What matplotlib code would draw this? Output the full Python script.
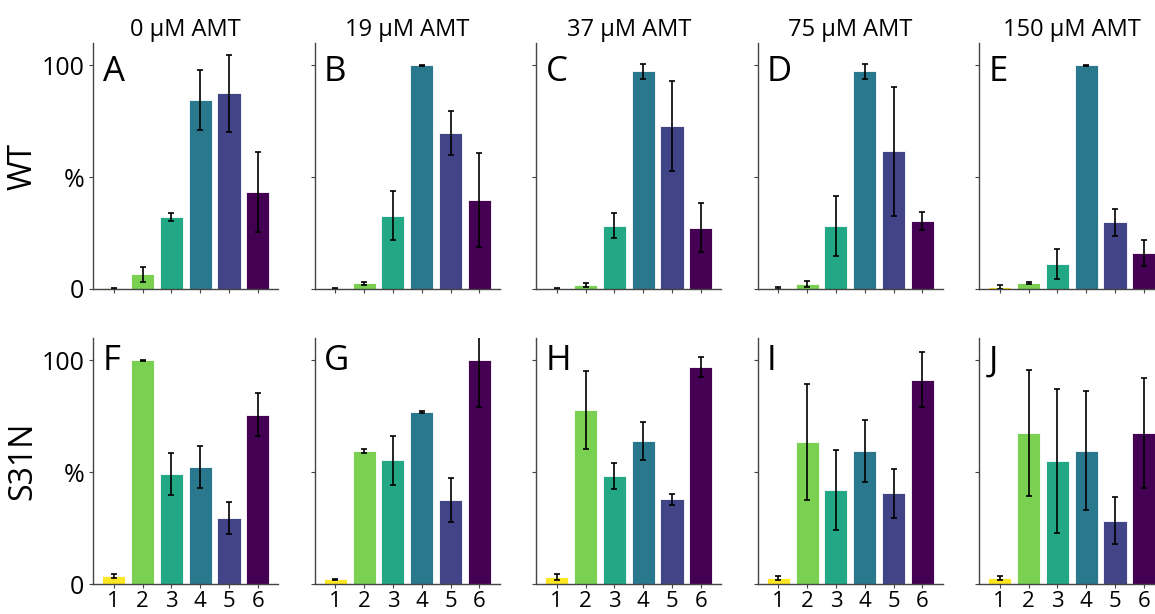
import numpy as np
import matplotlib
matplotlib.use("Agg")
import matplotlib.pyplot as plt

plt.rcParams['font.family'] = ['Open Sans', 'DejaVu Sans']

# concentrations (columns) and strains (rows)
conc_titles = ['0 μM AMT', '19 μM AMT', '37 μM AMT', '75 μM AMT', '150 μM AMT']
strains = ['WT', 'S31N']
letters = [['A', 'B', 'C', 'D', 'E'], ['F', 'G', 'H', 'I', 'J']]
categories = [1, 2, 3, 4, 5, 6]

# WT, mean % and error, one list per concentration
wt_vals = [
    [0.3, 6.5, 32.2, 84.4, 87.5, 43.3],
    [0.3, 2.5, 32.8, 100.0, 69.6, 39.9],
    [0.2, 1.8, 28.3, 97.3, 72.9, 27.4],
    [0.4, 2.2, 28.3, 97.3, 61.5, 30.4],
    [1.0, 2.7, 11.0, 100.0, 29.8, 16.1],
]
wt_err = [
    [0.2, 3.5, 2.0, 13.4, 17.3, 18.0],
    [0.2, 0.8, 11.0, 0.1, 9.8, 21.0],
    [0.2, 1.0, 5.5, 3.3, 20.0, 11.0],
    [0.3, 1.2, 13.5, 3.4, 28.7, 3.9],
    [0.9, 0.3, 6.7, 0.1, 6.1, 6.0],
]

# S31N
s31n_vals = [
    [3.7, 100.0, 49.1, 52.4, 29.4, 75.7],
    [2.1, 59.6, 55.3, 76.9, 37.6, 100.0],
    [3.1, 77.8, 48.4, 63.8, 37.9, 96.9],
    [2.7, 63.6, 42.0, 59.5, 40.5, 91.4],
    [2.7, 67.7, 55.1, 59.6, 28.3, 67.4],
]
s31n_err = [
    [0.8, 0.1, 9.3, 9.3, 7.2, 9.6],
    [0.3, 0.8, 11.0, 0.3, 9.8, 21.0],
    [1.3, 17.6, 5.9, 8.5, 2.5, 4.5],
    [0.8, 26.0, 18.0, 14.0, 10.9, 12.2],
    [0.8, 28.2, 32.3, 26.7, 10.5, 24.5],
]

vals = [wt_vals, s31n_vals]
errs = [wt_err, s31n_err]

colors = plt.cm.viridis(np.linspace(1, 0, 6))

fig = plt.figure(figsize=(11.55, 6.14), dpi=100)

left0 = 93.3 / 1155
w = 185 / 1155
pitch = 221.5 / 1155
h = 246 / 614
bottoms = [1 - 289 / 614, 1 - 584 / 614]
letter_y = [0.95, 0.975]

for r in range(2):
    for c in range(5):
        ax = fig.add_axes([left0 + c * pitch, bottoms[r], w, h])
        ax.bar(categories, vals[r][c], width=0.8, color=colors,
               edgecolor='white', linewidth=0.6)
        ax.errorbar(categories, vals[r][c], yerr=errs[r][c], fmt='none',
                    ecolor='black', elinewidth=1.2, capsize=2.2, capthick=1.2)
        ax.set_xlim(0.29, 6.71)
        ax.set_ylim(0, 110)
        ax.set_yticks([0, 50, 100])
        ax.set_xticks(categories)
        for s in ['top', 'right']:
            ax.spines[s].set_visible(False)
        for s in ['left', 'bottom']:
            ax.spines[s].set_color('#444444')
            ax.spines[s].set_linewidth(1.0)
        ax.tick_params(direction='out', length=3, width=0.8, color='#444444')
        ax.tick_params(axis='y', labelsize=18, pad=3.5)
        ax.tick_params(axis='x', labelsize=16, pad=2)
        if c == 0:
            ax.set_yticklabels(['0', '%', '100'])
            ax.set_ylabel(strains[r], fontsize=23)
            ax.yaxis.set_label_coords(-0.29, 0.5)
        else:
            ax.set_yticklabels([])
        if r == 1:
            ax.set_xticklabels([str(x) for x in categories])
        else:
            ax.set_xticklabels([])
            ax.set_title(conc_titles[c], fontsize=17, pad=5)
        ax.text(0.05, letter_y[r], letters[r][c], transform=ax.transAxes,
                fontsize=25, ha='left', va='top')

fig.savefig('out.png', dpi=100)
